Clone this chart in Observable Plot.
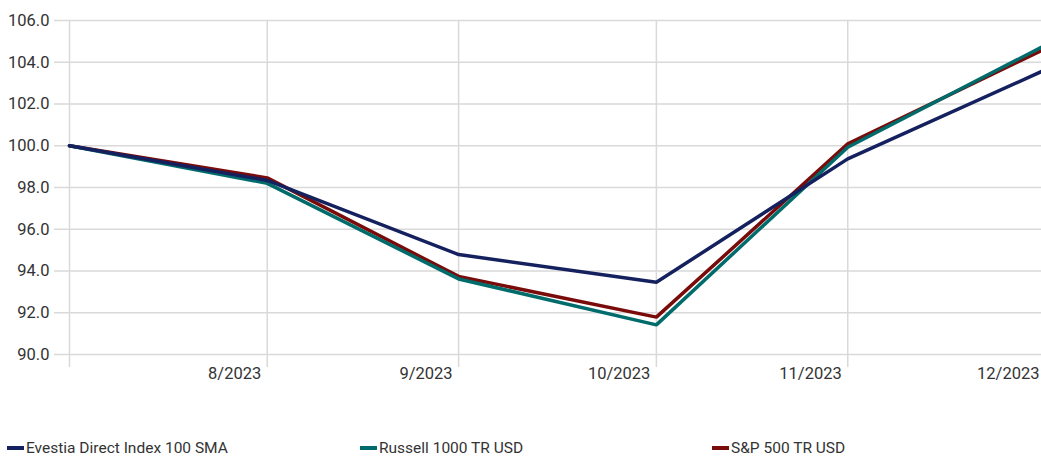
<!DOCTYPE html>
<html>
<head>
<meta charset="utf-8">
<script src="https://cdn.jsdelivr.net/npm/d3@7"></script>
<script src="https://cdn.jsdelivr.net/npm/@observablehq/plot@0.6"></script>
<style>
  body { margin: 0; background: #fff; font-family: Roboto, "DejaVu Sans Condensed", sans-serif; }
  #wrap { position: relative; width: 1041px; height: 456px; }
  #chart svg { overflow: hidden; }
  .legend { position: absolute; top: 436px; left: 0; width: 1041px; font-size: 15.5px; color: #333; }
  .item { position: absolute; top: 0; display: flex; align-items: center; white-space: nowrap; line-height: 24px; }
  .swatch { display: inline-block; width: 17px; height: 3.5px; margin-right: 2px; }
</style>
</head>
<body>
<div id="wrap">
  <div id="chart"></div>
  <div class="legend" id="legend"></div>
</div>
<script>
const dates = ["2023-07-31", "2023-08-31", "2023-09-30", "2023-10-31", "2023-11-30", "2023-12-31"];
const seriesNames = ["Evestia Direct Index 100 SMA", "Russell 1000 TR USD", "S&P 500 TR USD"];
const evestia = [100, 98.34, 94.79, 93.46, 99.37, 103.64];
const russell = [100, 98.20, 93.62, 91.42, 99.93, 104.82];
const sp500 = [100, 98.46, 93.74, 91.79, 100.09, 104.65];
const yTicks = [90, 92, 94, 96, 98, 100, 102, 104, 106];
const xTickDates = ["2023-07-31", "2023-08-31", "2023-09-30", "2023-10-31", "2023-11-30", "2023-12-31"];
const xTickLabels = ["", "8/2023", "9/2023", "10/2023", "11/2023", "12/2023"];
const colors = ["#14215e", "#006b6b", "#7a0b0b"];

const parse = d3.utcParse("%Y-%m-%d");
const seriesValues = [evestia, russell, sp500];
const rows = [];
seriesNames.forEach((name, i) => {
  dates.forEach((d, j) => rows.push({ date: parse(d), value: seriesValues[i][j], series: name }));
});
const xTicks = xTickDates.map(parse);
const labelOf = new Map(xTicks.map((d, i) => [+d, xTickLabels[i]]));
const drawOrder = [seriesNames[2], seriesNames[1], seriesNames[0]];

const plot = Plot.plot({
  width: 1041,
  height: 395,
  marginTop: 20,
  marginBottom: 41,
  marginLeft: 69,
  marginRight: 0,
  style: { fontFamily: 'Roboto, "DejaVu Sans Condensed", sans-serif', fontSize: "16.5px", color: "#333", overflow: "hidden" },
  x: { type: "utc", domain: [parse(dates[0]), parse(dates[dates.length - 1])], range: [69, 1045] },
  y: { domain: [90, 106] },
  color: { domain: seriesNames, range: colors },
  marks: [
    Plot.ruleY(yTicks, { y: d => d, x1: xTicks[0], x2: xTicks[xTicks.length - 1], insetLeft: -15, stroke: "#d9d9d9", strokeWidth: 1.5 }),
    Plot.ruleX(xTicks, { x: d => d, y1: 106, y2: 90, insetBottom: -13, stroke: "#d9d9d9", strokeWidth: 1.5 }),
    Plot.axisY(yTicks, { tickSize: 0, tickPadding: 20, label: null, tickFormat: d => d.toFixed(1), fill: "#333", fontSize: 16.5 }),
    Plot.axisX(xTicks, { tickSize: 0, tickPadding: 0, label: null, textAnchor: "end", dx: -6, dy: 13, tickFormat: d => labelOf.get(+d), fill: "#333", fontSize: 16.5 }),
    ...drawOrder.map(name => Plot.line(rows.filter(r => r.series === name), { x: "date", y: "value", stroke: "series", strokeWidth: 3.5, strokeLinejoin: "miter" }))
  ]
});
document.getElementById("chart").appendChild(plot);

const legend = document.getElementById("legend");
const lefts = [7, 360, 712];
seriesNames.forEach((name, i) => {
  const item = document.createElement("div");
  item.className = "item";
  item.style.left = lefts[i] + "px";
  const sw = document.createElement("span");
  sw.className = "swatch";
  sw.style.background = colors[i];
  const t = document.createElement("span");
  t.textContent = name;
  item.appendChild(sw);
  item.appendChild(t);
  legend.appendChild(item);
});
</script>
</body>
</html>
